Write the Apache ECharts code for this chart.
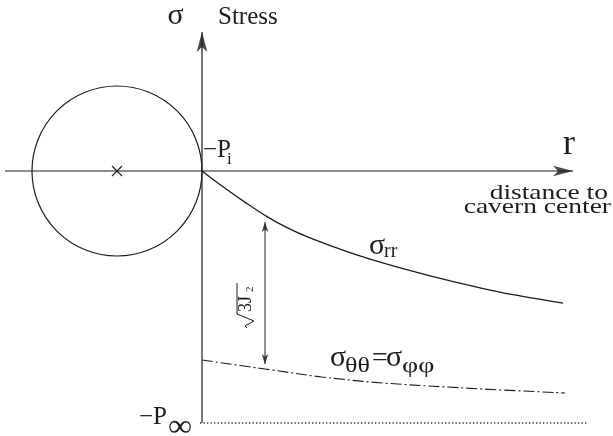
<!DOCTYPE html>
<html>
<head>
<meta charset="utf-8">
<script src="https://cdn.jsdelivr.net/npm/echarts@6/dist/echarts.min.js"></script>
<style>
  html, body { margin: 0; padding: 0; background: #fff; }
  #main { width: 613px; height: 436px; }
</style>
</head>
<body>
<div id="main"></div>
<script>
// radial stress sigma_rr along r (r = 0 at the cavern wall)
const rrX = [0, 2.1, 4.5, 6.5, 8.5, 10.8, 14.8, 18.5, 22.8, 27.8, 31.1, 36.1];
const rrY = [0, -1.58, -3.26, -4.56, -5.66, -6.69, -8.17, -9.32, -10.48, -11.68, -12.37, -13.22];
// hoop stress sigma_thetatheta = sigma_phiphi
const ttX = [0, 6.3, 12, 18.1, 28.1, 36.3];
const ttY = [-18.9, -19.8, -20.6, -21.2, -21.8, -22.2];
// far field pressure -P_inf
const pInf = -25.2;
const pInfX = [-0.2, 38.5];
// cavern: center x, center y, radius
const cavern = [-8.5, 0, 8.5];
// axis extents (arrow heads sit at the far ends)
const axisX = [-19.7, 37.1];
const axisY = [-25.2, 13.9];
// sqrt(3 J2) gap arrow
const j2X = 6.3;
const j2Y = [-5.1, -19.3];

const ink = '#1c1c1c';
const serif = '"Liberation Serif", "DejaVu Serif", serif';

let myChart = echarts.init(document.getElementById('main'));

// text helper: x, baseline, size
const txt = (str, x, base, size, align, extra) => Object.assign({
  type: 'text',
  x: x,
  y: base - 0.3 * size,
  silent: true,
  style: {
    text: str,
    font: size + 'px ' + serif,
    fill: ink,
    align: align || 'left',
    textAlign: align || 'left',
    verticalAlign: 'middle',
    textVerticalAlign: 'middle'
  }
}, extra || {});

const plainLine = (pts, width, type, color) => ({
  type: 'line',
  symbol: 'none',
  silent: true,
  data: pts,
  lineStyle: { color: color || ink, width: width, type: type || 'solid' }
});

let option = {
  animation: false,
  grid: { left: 2, right: 3, top: 0, bottom: 0 },
  xAxis: { type: 'value', min: -20, max: 40.8, show: false },
  yAxis: { type: 'value', min: -26.5, max: 17.1, show: false },
  series: [
    // axes
    plainLine([[axisX[0], 0], [axisX[1], 0]], 1.2),
    plainLine([[0, axisY[0]], [0, axisY[1]]], 1.2),
    {
      // axis arrow heads: r to the right, sigma upwards
      type: 'scatter',
      silent: true,
      symbol: 'arrow',
      symbolSize: [8, 20],
      symbolRotate: (v, p) => (p.dataIndex === 0 ? -90 : 0),
      itemStyle: { color: ink },
      data: [[axisX[1], 0], [0, axisY[1]]]
    },
    {
      // cavern circle with its center mark
      type: 'custom',
      silent: true,
      clip: false,
      data: [cavern],
      renderItem: function (params, api) {
        const c = api.coord([api.value(0), api.value(1)]);
        const r = api.size([api.value(2), 0])[0];
        return {
          type: 'group',
          children: [
            { type: 'circle', shape: { cx: c[0], cy: c[1], r: r }, style: { fill: 'none', stroke: ink, lineWidth: 1.2 } },
            { type: 'line', shape: { x1: c[0] - 5, y1: c[1] - 5, x2: c[0] + 5, y2: c[1] + 5 }, style: { stroke: ink, lineWidth: 1.1 } },
            { type: 'line', shape: { x1: c[0] - 5, y1: c[1] + 5, x2: c[0] + 5, y2: c[1] - 5 }, style: { stroke: ink, lineWidth: 1.1 } }
          ]
        };
      }
    },
    Object.assign(plainLine(rrX.map((x, i) => [x, rrY[i]]), 1.3), { name: 'sigma_rr', smooth: 0.35 }),
    Object.assign(plainLine(ttX.map((x, i) => [x, ttY[i]]), 1.1, [11, 3, 2, 3]), { name: 'sigma_tt', smooth: 0.35 }),
    plainLine(pInfX.map(x => [x, pInf]), 1.3, [1.3, 2.2], '#333'),
    // sqrt(3 J2) double arrow
    plainLine(j2Y.map(y => [j2X, y]), 1),
    {
      type: 'scatter',
      silent: true,
      symbol: 'arrow',
      symbolSize: [5, 10],
      symbolRotate: (v, p) => (p.dataIndex === 0 ? 0 : 180),
      itemStyle: { color: ink },
      data: j2Y.map(y => [j2X, y])
    }
  ],
  graphic: [
    txt('σ', 175.5, 25, 30, 'center'),
    txt('Stress', 218, 25, 25),
    txt('−P', 203, 158, 25),
    txt('i', 227, 165, 17),
    txt('r', 569, 155, 36, 'center'),
    txt('distance to', 608, 200, 22, 'right', { scaleX: 1.25 }),
    txt('cavern center', 611, 213.5, 22, 'right', { scaleX: 1.25 }),
    txt('σ', 369, 255, 30),
    txt('rr', 384, 258, 20),
    txt('σ', 330, 367, 30),
    txt('θθ', 345, 373, 20, 'left', { scaleX: 1.3 }),
    txt('=', 372, 367, 28),
    txt('σ', 386, 367, 30),
    txt('φφ', 402, 373, 20, 'left', { scaleX: 1.4 }),
    txt('−P', 167, 425, 25, 'right'),
    txt('∞', 168, 437, 32, 'left', { scaleX: 1.05 }),
    {
      // sqrt(3 J2) written upwards next to the arrow
      type: 'group',
      x: 246,
      y: 301,
      rotation: Math.PI / 2,
      silent: true,
      children: [
        { type: 'polyline', shape: { points: [[-27, 1], [-25, -1], [-20, 8], [-13, -9], [18, -9]] }, style: { fill: 'none', stroke: ink, lineWidth: 1 } },
        { type: 'text', x: -11, y: 0, style: { text: '3J', font: '18px ' + serif, fill: ink, align: 'left', verticalAlign: 'middle' } },
        { type: 'text', x: 9, y: 4, style: { text: '2', font: '11px ' + serif, fill: ink, align: 'left', verticalAlign: 'middle' } }
      ]
    }
  ]
};

myChart.setOption(option);
</script>
</body>
</html>
